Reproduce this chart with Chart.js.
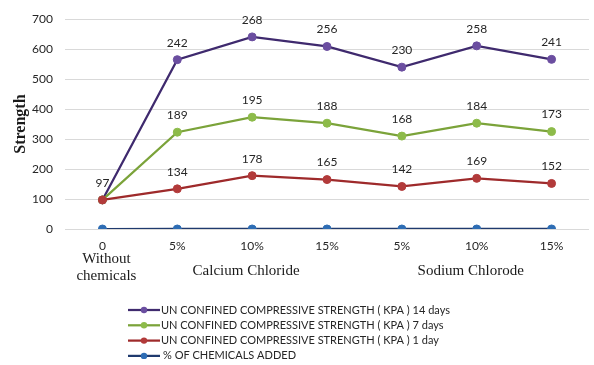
<!DOCTYPE html>
<html>
<head>
<meta charset="utf-8">
<script src="https://cdn.jsdelivr.net/npm/chart.js@4/dist/chart.umd.min.js"></script>
<style>
  html, body { margin: 0; padding: 0; background: #ffffff; }
  #wrap { width: 594px; height: 365px; position: relative; }
</style>
</head>
<body>
<div id="wrap"><canvas id="chart"></canvas></div>
<script>
// Dosage of each chemical (x axis, first level)
const categories = ['0', '5%', '10%', '15%', '5%', '10%', '15%'];

// Second-level x-axis groups: label lines and the category span they cover
const groupLabels = [['Without', 'chemicals'], ['Calcium Chloride'], ['Sodium Chlorode']];
const groupFrom = [0, 1, 4];
const groupTo = [0, 3, 6];

// Unconfined compressive strength (kPa) – each curing period is stacked on the previous one
const ucs1Day = [97, 134, 178, 165, 142, 169, 152];
const ucs7Days = [0, 189, 195, 188, 168, 184, 173];
const ucs14Days = [0, 242, 268, 256, 230, 258, 241];

// Share of chemical added (fraction)
const chemicalsAdded = [0, 0.05, 0.10, 0.15, 0.05, 0.10, 0.15];

const yTicks = [0, 100, 200, 300, 400, 500, 600, 700];

const SANS = 'Lato, "Liberation Sans", sans-serif';
const SERIF = '"Liberation Serif", "DejaVu Serif", serif';

const series = [
  { label: 'UN CONFINED COMPRESSIVE STRENGTH ( KPA ) 1 day', data: ucs1Day, line: '#9e2a2b', point: '#b23a3a', stack: 'ucs', showValues: true },
  { label: 'UN CONFINED COMPRESSIVE STRENGTH ( KPA ) 7 days', data: ucs7Days, line: '#7ba33a', point: '#8dbb4a', stack: 'ucs', showValues: true },
  { label: 'UN CONFINED COMPRESSIVE STRENGTH ( KPA ) 14 days', data: ucs14Days, line: '#3f2a6e', point: '#6b4ea0', stack: 'ucs', showValues: true },
  { label: '% OF CHEMICALS ADDED', data: chemicalsAdded, line: '#1f3a6e', point: '#2e6db4', stack: 'pct', showValues: false }
];

// Values written above the strength markers
const valueLabels = {
  id: 'valueLabels',
  afterDatasetsDraw(chart) {
    const ctx = chart.ctx;
    ctx.save();
    ctx.font = '12px ' + SANS;
    ctx.fillStyle = '#262626';
    ctx.textAlign = 'center';
    ctx.textBaseline = 'middle';
    chart.data.datasets.forEach((ds, i) => {
      if (!ds.showValues) return;
      const meta = chart.getDatasetMeta(i);
      meta.data.forEach((pt, j) => {
        const v = ds.data[j];
        if (!v) return;
        ctx.fillText(String(v), pt.x, pt.y - 17);
      });
    });
    ctx.restore();
  }
};

// Second row of x-axis labels (chemical names)
const groupAxis = {
  id: 'groupAxis',
  afterDraw(chart) {
    const ctx = chart.ctx;
    const x = chart.scales.x;
    ctx.save();
    ctx.font = '15px ' + SERIF;
    ctx.fillStyle = '#1a1a1a';
    ctx.textAlign = 'center';
    ctx.textBaseline = 'middle';
    groupLabels.forEach((lines, g) => {
      const cx = (x.getPixelForValue(groupFrom[g]) + x.getPixelForValue(groupTo[g])) / 2;
      if (lines.length === 1) {
        ctx.fillText(lines[0], cx - 6, 271);
      } else {
        lines.forEach((t, k) => ctx.fillText(t, cx + 4, 259 + k * 17));
      }
    });
    ctx.restore();
  }
};

// Legend listed from the longest curing period down
const legendBlock = {
  id: 'legendBlock',
  afterDraw(chart) {
    const ctx = chart.ctx;
    const order = [2, 1, 0, 3];
    ctx.save();
    ctx.font = '11px ' + SANS;
    ctx.textBaseline = 'middle';
    ctx.textAlign = 'left';
    order.forEach((di, row) => {
      const ds = chart.data.datasets[di];
      const y = 310 + row * 15.3;
      ctx.strokeStyle = ds.borderColor;
      ctx.lineWidth = 2.25;
      ctx.beginPath();
      ctx.moveTo(128, y);
      ctx.lineTo(160, y);
      ctx.stroke();
      ctx.fillStyle = ds.pointBackgroundColor;
      ctx.beginPath();
      ctx.arc(144, y, 3.2, 0, Math.PI * 2);
      ctx.fill();
      ctx.fillStyle = '#262626';
      ctx.fillText(ds.label, di === 3 ? 163 : 161, y);
    });
    ctx.restore();
  }
};

new Chart(document.getElementById('chart'), {
  type: 'line',
  data: {
    labels: categories,
    datasets: series.map(s => ({
      label: s.label,
      data: s.data,
      stack: s.stack,
      showValues: s.showValues,
      borderColor: s.line,
      backgroundColor: s.point,
      pointBackgroundColor: s.point,
      pointBorderColor: s.point,
      pointRadius: 4,
      pointBorderWidth: 1,
      borderWidth: 2.25,
      tension: 0,
      fill: false
    }))
  },
  options: {
    responsive: true,
    maintainAspectRatio: false,
    animation: false,
    layout: { padding: { top: 17, right: 0, left: 0, bottom: 0 } },
    plugins: {
      legend: { display: false },
      tooltip: { enabled: false }
    },
    scales: {
      x: {
        offset: true,
        grid: { display: false, drawTicks: false },
        border: { display: false },
        ticks: { font: { family: SANS, size: 12 }, color: '#262626', padding: 10, maxRotation: 0, autoSkip: false },
        afterFit(s) { s.height = 136; }
      },
      y: {
        stacked: true,
        min: 0,
        max: 700,
        afterBuildTicks(s) { s.ticks = yTicks.map(v => ({ value: v })); },
        grid: { color: '#d9d9d9', lineWidth: 1, drawTicks: false },
        border: { display: false },
        ticks: { font: { family: SANS, size: 12 }, color: '#262626', padding: 12 },
        title: { display: true, text: 'Strength', font: { family: SERIF, size: 16, weight: 'bold' }, color: '#1a1a1a', padding: { top: 11, bottom: 2 } },
        afterFit(s) { s.width = 65; }
      }
    }
  },
  plugins: [valueLabels, groupAxis, legendBlock]
});
</script>
</body>
</html>
